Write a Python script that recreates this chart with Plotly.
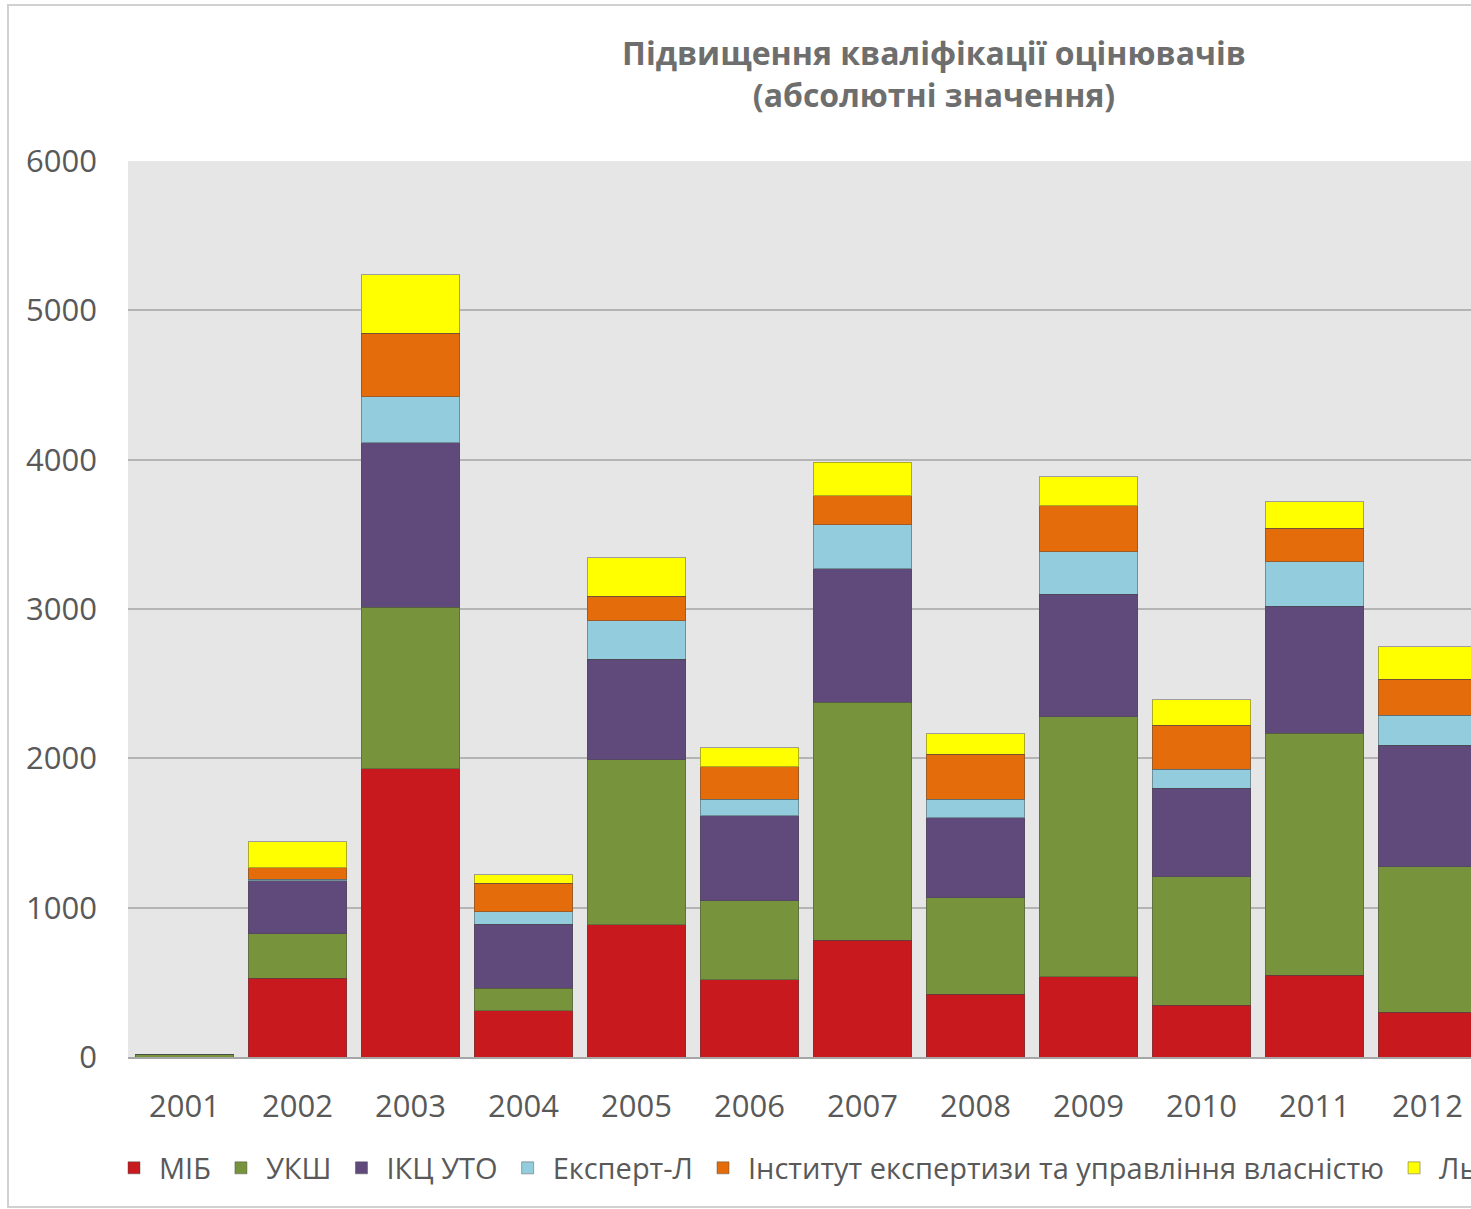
import plotly.graph_objects as go

years = ["2001", "2002", "2003", "2004", "2005", "2006", "2007", "2008", "2009", "2010", "2011", "2012"]
mib = [0, 529, 1929, 310, 884, 516, 783, 420, 536, 348, 549, 299]
uksh = [15, 295, 1084, 150, 1105, 529, 1594, 647, 1741, 859, 1619, 975]
ikc_uto = [0, 355, 1099, 429, 676, 569, 891, 536, 823, 593, 852, 815]
expert_l = [0, 10, 308, 84, 255, 112, 295, 123, 282, 126, 295, 201]
institute = [0, 80, 428, 190, 167, 218, 194, 303, 308, 297, 227, 241]
lviv = [0, 174, 389, 56, 255, 127, 227, 134, 194, 168, 175, 217]

series = [
    ("МІБ", mib, "#C8191E"),
    ("УКШ", uksh, "#77933C"),
    ("ІКЦ УТО", ikc_uto, "#604A7B"),
    ("Експерт-Л", expert_l, "#93CDDD"),
    ("Інститут експертизи та управління власністю", institute, "#E46C0A"),
    ("Львів", lviv, "#FFFF00"),
]

W, H = 1760, 1209
L, PR, T, B = 128, 1484, 161, 152  # plot area in pixels
PW = PR - L
PH = H - T - B

fig = go.Figure()
for name, vals, color in series:
    fig.add_trace(go.Bar(
        x=years, y=vals, name=name,
        marker=dict(color=color, line=dict(color="rgba(70,70,70,0.45)", width=1)),
    ))

font_family = "Open Sans, DejaVu Sans, sans-serif"

def px_x(px):
    return (px - L) / PW

def px_y(py):
    return (H - B - py) / PH

fig.update_layout(
    width=W, height=H,
    barmode="stack", bargap=0.13,
    paper_bgcolor="white", plot_bgcolor="#E6E6E6",
    margin=dict(l=L, r=W - PR, t=T, b=B, pad=0),
    font=dict(family=font_family, color="#595959"),
    title=dict(
        text="<b>Підвищення кваліфікації оцінювачів<br>(абсолютні значення)</b>",
        x=934 / W, xref="container", xanchor="center",
        y=1 - 65 / H, yref="container", yanchor="top",
        font=dict(family=font_family, size=32, color="#6E6E6E"),
    ),
    xaxis=dict(
        range=[-0.5, 11.5], showgrid=False, showline=True, linecolor="#A6A6A6", linewidth=2,
        ticks="", tickfont=dict(size=31, color="#595959"), ticklabelstandoff=21,
    ),
    yaxis=dict(
        range=[0, 6000], dtick=1000, showgrid=True, gridcolor="#B4B4B4", gridwidth=2,
        zeroline=False, ticks="", tickfont=dict(size=31, color="#595959"), ticklabelstandoff=30,
        tickformat="d",
    ),
    legend=dict(
        orientation="h", x=px_x(109), xanchor="left", y=px_y(1168), yanchor="middle",
        font=dict(size=29, color="#595959"), traceorder="normal", itemwidth=40,
        bgcolor="rgba(0,0,0,0)",
    ),
    showlegend=True,
)

fig.add_shape(
    type="rect", xref="paper", yref="paper",
    x0=px_x(8), x1=px_x(W + 20), y0=px_y(1207), y1=px_y(5),
    line=dict(color="#D0D0D0", width=2), fillcolor="rgba(0,0,0,0)", layer="below",
)

fig.write_html(
    "out.html",
    post_script="document.body.style.margin='0';document.body.style.overflow='hidden';",
)
